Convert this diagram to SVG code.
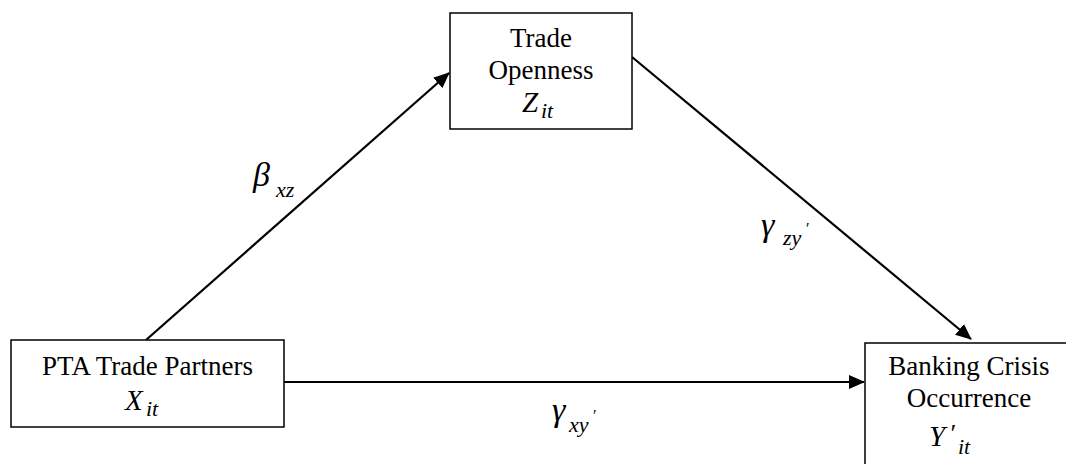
<svg xmlns="http://www.w3.org/2000/svg" width="1066" height="464" viewBox="0 0 1066 464">
<style>
.box{fill:#fff;stroke:#000;stroke-width:1.5}
.lbl{font-size:27px;fill:#000;text-anchor:middle}
.m{font-style:italic;fill:#000}
.big{font-size:29px}
.gr{font-size:34px}
.sub{font-size:22px}
.conn{stroke:#000;stroke-width:2.2;fill:none}
</style>
<defs>
<marker id="ah" markerUnits="userSpaceOnUse" markerWidth="16" markerHeight="14" refX="15" refY="7" orient="auto">
<path d="M0,0 L16,7 L0,14 Z" fill="#000"/>
</marker>
</defs>
<rect width="1066" height="464" fill="#fff"/>
<g id="connectors">
<line class="conn" x1="146" y1="340" x2="449" y2="73" marker-end="url(#ah)"/>
<line class="conn" x1="632" y1="57" x2="971" y2="339" marker-end="url(#ah)"/>
<line class="conn" x1="284" y1="382" x2="864" y2="382" marker-end="url(#ah)"/>
</g>
<g id="labels" font-family="Liberation Serif, Times New Roman, serif">
<text class="m gr" x="253" y="186">β</text><text class="m sub" x="276" y="197">xz</text>
<text class="m gr" x="761" y="236">γ</text><text class="m sub" x="783" y="245">zy</text><text class="m" x="805" y="234" font-size="16">′</text>
<text class="m gr" x="552" y="421">γ</text><text class="m sub" x="569" y="432">xy</text><text class="m" x="592" y="421" font-size="16">′</text>
</g>
<g id="node-trade-openness" font-family="Liberation Serif, Times New Roman, serif">
<rect class="box" x="450" y="13" width="182" height="116"/>
<text class="lbl" x="541" y="47">Trade</text>
<text class="lbl" x="541" y="79">Openness</text>
<text class="m big" x="522" y="112">Z</text><text class="m sub" x="541" y="118">it</text>
</g>
<g id="node-pta" font-family="Liberation Serif, Times New Roman, serif">
<rect class="box" x="11" y="340" width="273" height="87"/>
<text class="lbl" x="147.5" y="375">PTA Trade Partners</text>
<text class="m big" x="125" y="410">X</text><text class="m sub" x="146" y="416">it</text>
</g>
<g id="node-banking" font-family="Liberation Serif, Times New Roman, serif">
<rect class="box" x="865" y="343" width="208" height="140"/>
<text class="lbl" x="969" y="375">Banking Crisis</text>
<text class="lbl" x="969" y="407">Occurrence</text>
<text class="m big" x="929" y="446">Y</text><text class="m" x="949" y="442" font-size="26">′</text><text class="m sub" x="958" y="454">it</text>
</g>
</svg>
